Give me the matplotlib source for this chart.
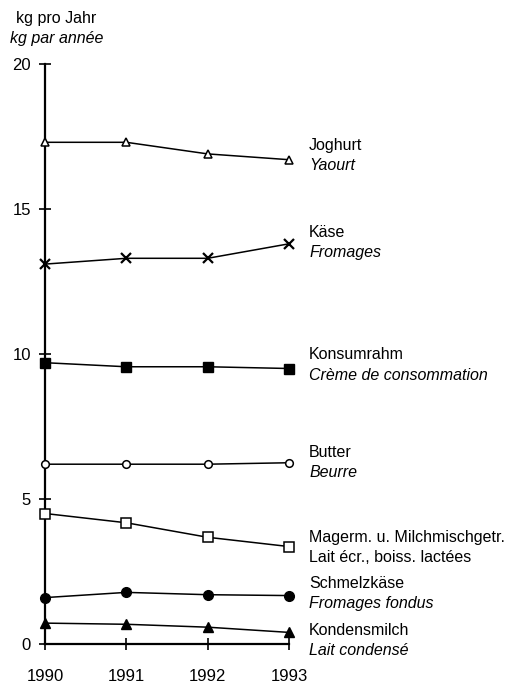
import matplotlib.pyplot as plt

plt.rcParams['font.family'] = ['Liberation Sans', 'DejaVu Sans']

years = [1990, 1991, 1992, 1993]
joghurt = [17.3, 17.3, 16.9, 16.7]
kaese = [13.1, 13.3, 13.3, 13.8]
konsumrahm = [9.7, 9.56, 9.56, 9.5]
butter = [6.2, 6.2, 6.2, 6.25]
magermilch = [4.5, 4.18, 3.68, 3.36]
schmelzkaese = [1.6, 1.78, 1.7, 1.67]
kondensmilch = [0.72, 0.68, 0.58, 0.4]

labels_de = ["Joghurt", "Käse", "Konsumrahm", "Butter",
             "Magerm. u. Milchmischgetr.", "Schmelzkäse", "Kondensmilch"]
labels_fr = ["Yaourt", "Fromages", "Crème de consommation", "Beurre",
             "Lait écr., boiss. lactées", "Fromages fondus", "Lait condensé"]
fr_italic = [True, True, True, True, False, True, True]
# y position (data units) of the first label line
label_y = [17.2, 14.2, 9.97, 6.62, 3.66, 2.1, 0.48]

series = [joghurt, kaese, konsumrahm, butter, magermilch, schmelzkaese, kondensmilch]
styles = [
    dict(marker='^', mfc='white', ms=5.5, mew=1.1),
    dict(marker='x', ms=6.5, mew=1.6),
    dict(marker='s', mfc='black', ms=6.5),
    dict(marker='o', mfc='white', ms=5.5, mew=1.1),
    dict(marker='s', mfc='white', ms=6.5, mew=1.1),
    dict(marker='o', mfc='black', ms=7),
    dict(marker='^', mfc='black', ms=6.5),
]

fig = plt.figure(figsize=(5.29, 6.86), dpi=100)
ax = fig.add_axes([45/529, 42/686, 244/529, 580/686])

for vals, st in zip(series, styles):
    ax.plot(years, vals, color='black', lw=1.1, mec='black', clip_on=False, zorder=3, **st)

ax.set_xlim(1990, 1993)
ax.set_ylim(0, 20)
ax.set_xticks(years)
ax.set_yticks([0, 5, 10, 15, 20])
ax.spines['top'].set_visible(False)
ax.spines['right'].set_visible(False)
ax.spines['left'].set_linewidth(1.6)
ax.spines['bottom'].set_linewidth(1.6)
ax.tick_params(axis='y', direction='inout', length=8, width=1.2, labelsize=12, pad=6)
ax.tick_params(axis='x', direction='inout', length=8, width=1.2, labelsize=12, pad=14)

for de, fr, it, y in zip(labels_de, labels_fr, fr_italic, label_y):
    ax.annotate(de, xy=(1993, y), xytext=(14.5, 0), textcoords='offset points',
                fontsize=11.5, va='center', ha='left', annotation_clip=False)
    ax.annotate(fr, xy=(1993, y), xytext=(14.5, -14.5), textcoords='offset points',
                fontsize=11.5, va='center', ha='left',
                style='italic' if it else 'normal', annotation_clip=False)

fig.text(16/529, 1 - 19/686, "kg pro Jahr", fontsize=11.5, va='center', ha='left')
fig.text(10/529, 1 - 39/686, "kg par année", fontsize=11.5, va='center', ha='left', style='italic')

fig.savefig("out.png", dpi=100)
